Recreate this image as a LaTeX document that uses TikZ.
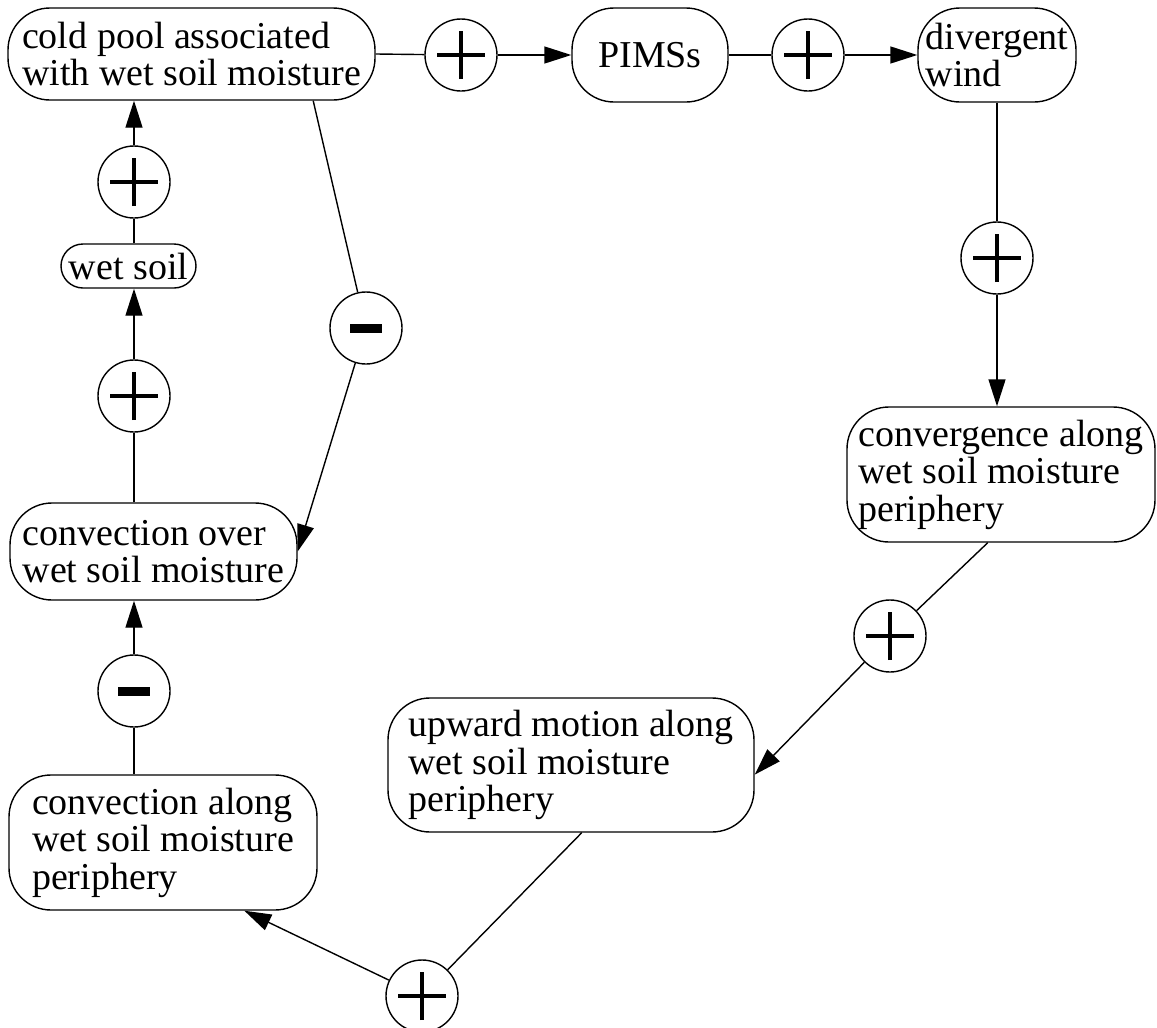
\documentclass[tikz,border=0pt]{standalone}
\usepackage{fontspec}
\setmainfont{Liberation Serif}
\usepackage{tikz}
\usetikzlibrary{arrows.meta,calc}

\tikzset{
  boxnode/.style={draw,rounded corners=42pt,align=left,inner sep=0pt,
    font=\fontsize{38pt}{37.5pt}\selectfont},
  signplus/.style={circle,draw,minimum size=72pt,inner sep=0pt,
    path picture={\draw[line width=3.5pt]
      ([xshift=-24pt]path picture bounding box.center) -- ([xshift=24pt]path picture bounding box.center)
      ([yshift=-24pt]path picture bounding box.center) -- ([yshift=24pt]path picture bounding box.center);}},
  signminus/.style={circle,draw,minimum size=72pt,inner sep=0pt,
    path picture={\fill
      ([xshift=-16pt,yshift=-4.5pt]path picture bounding box.center) rectangle
      ([xshift=16pt,yshift=4.5pt]path picture bounding box.center);}},
  arr/.style={-{Triangle[length=27pt,width=17pt]}}
}

\begin{document}
\begin{tikzpicture}[x=1pt,y=-1pt,line width=1.4pt]
\useasboundingbox (0,0) rectangle (1157,1028);

\node[boxnode,minimum width=367pt,minimum height=92pt] (coldpool) at (191.5,54)
  {cold pool associated\\with wet soil moisture};
\node[boxnode,minimum width=156pt,minimum height=94pt] (pims) at (650,55) {PIMSs};
\node[boxnode,minimum width=158pt,minimum height=94pt] (divwind) at (997,55) {divergent\\wind};
\node[boxnode,minimum width=308pt,minimum height=135pt] (conv) at (1001,474.5)
  {convergence along\\wet soil moisture\\periphery};
\node[boxnode,minimum width=366pt,minimum height=134pt] (upward) at (571,765)
  {upward motion along\\wet soil moisture\\periphery};
\node[boxnode,minimum width=308pt,minimum height=135pt] (calong) at (163,842.5)
  {convection along\\wet soil moisture\\periphery};
\node[boxnode,minimum width=287pt,minimum height=97pt] (cover) at (153.5,551.5)
  {convection over\\wet soil moisture};
\node[boxnode,align=center,minimum width=135pt,minimum height=44pt,rounded corners=22pt] (wetsoil) at (128.5,266)
  {wet soil};

\node[signplus] (p1) at (461,55) {};
\node[signplus] (p2) at (808,55) {};
\node[signplus] (p3) at (997,258) {};
\node[signplus] (p4) at (890,636) {};
\node[signplus] (p5) at (422,996) {};
\node[signminus] (m1) at (134,691) {};
\node[signplus] (p6) at (134,396) {};
\node[signplus] (p7) at (134,182) {};
\node[signminus] (m2) at (366,328) {};

\draw (coldpool.east) -- (p1);
\draw[arr] (p1) -- (pims);
\draw (pims) -- (p2);
\draw[arr] (p2) -- (divwind);
\draw (divwind) -- (p3);
\draw[arr] (p3) -- (p3 |- conv.north);
\draw (conv.-101) -- (p4);
\draw[arr] (p4) -- (upward.-3);
\draw (upward.-81) -- (p5);
\draw[arr] (p5) -- (calong.-40);
\draw (m1 |- calong.north) -- (m1);
\draw[arr] (m1) -- (m1 |- cover.south);
\draw (p6 |- cover.north) -- (p6);
\draw[arr] (p6) -- (p6 |- wetsoil.south);
\draw (p7 |- wetsoil.north) -- (p7);
\draw[arr] (p7) -- (p7 |- coldpool.south);
\draw (coldpool.-21.5) -- (m2);
\draw[arr] (m2) -- (cover.east);
\end{tikzpicture}
\end{document}
